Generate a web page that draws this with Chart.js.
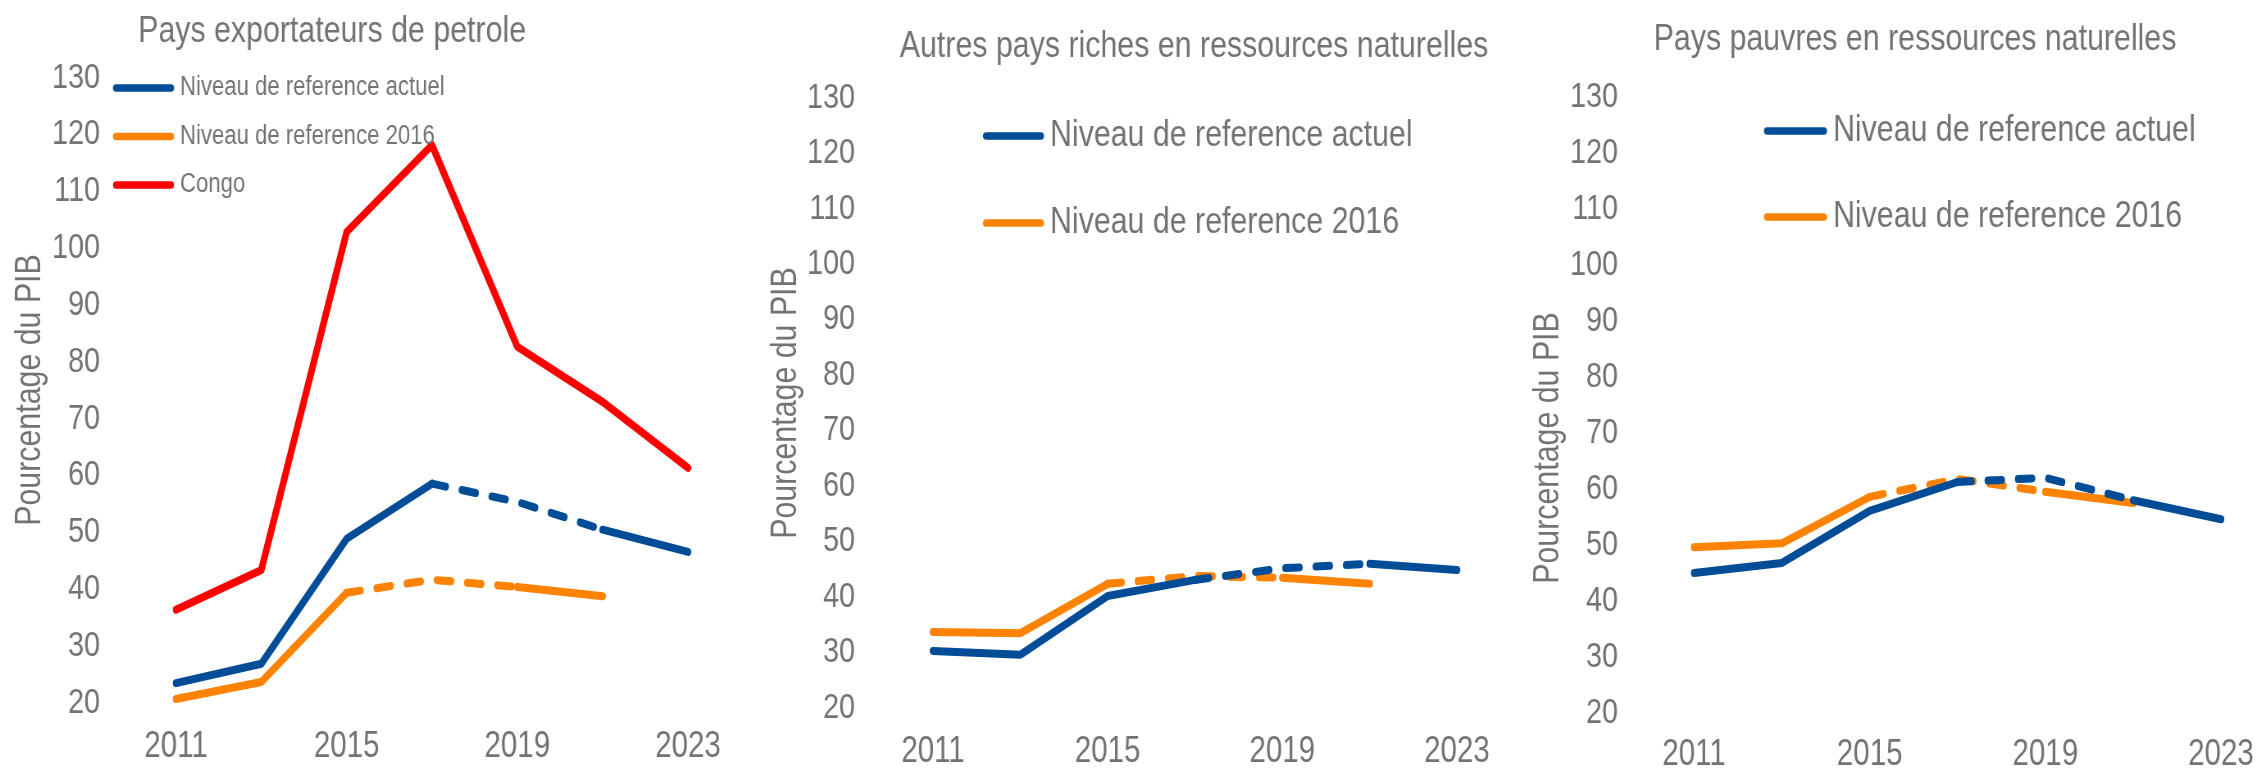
<!DOCTYPE html>
<html>
<head>
<meta charset="utf-8">
<script src="https://cdn.jsdelivr.net/npm/chart.js@4.4.1/dist/chart.umd.min.js"></script>
<style>
    html, body { margin: 0; padding: 0; background: #fff; }
    #wrap { position: relative; width: 2257px; height: 770px; overflow: hidden; }
    .panel { position: absolute; top: 0; height: 770px; overflow: hidden; }
    /* the source uses a narrow face; squeeze a regular one to get the same proportions */
    .squeeze { position: absolute; left: 0; top: 0; height: 770px; transform: scaleX(0.82); transform-origin: 0 0; }
</style>
</head>
<body>
<div id="wrap">
    <div class="panel" style="left:0;width:755px"><div class="squeeze" style="width:921px"><canvas id="oilChart"></canvas></div></div>
    <div class="panel" style="left:755px;width:755px"><div class="squeeze" style="width:921px"><canvas id="richChart"></canvas></div></div>
    <div class="panel" style="left:1510px;width:747px"><div class="squeeze" style="width:911px"><canvas id="poorChart"></canvas></div></div>
</div>
<script>
// years on the x axis, only some of them get a label
const years = ['2011', '2013', '2015', '2017', '2019', '2021', '2023'];
const shownYears = ['2011', '2015', '2019', '2023'];

// Pays exportateurs de petrole
const oilActual = [23.5, 26.9, 48.9, 58.6, 55.4, 50.5, 46.6];
const oil2016 = [20.7, 23.7, 39.4, 41.7, 40.4, 38.8, null];
const congo = [36.4, 43.4, 102.9, 118.2, 82.7, 73, 61.4];

// Autres pays riches en ressources naturelles
const richActual = [30.3, 29.6, 40.2, 43.1, 45.2, 46, 44.9];
const rich2016 = [33.7, 33.5, 42.4, 43.8, 43.5, 42.4, null];

// Pays pauvres en ressources naturelles
const poorActual = [45, 46.8, 56.1, 61.25, 62, 58, 54.6];
const poor2016 = [49.6, 50.3, 58.6, 61.8, 59.5, 57.5, null];

const yMin = 20;
const yMax = 130;
const yStep = 10;

const SQUEEZE = 0.82;
const BLUE = '#004c97';
const ORANGE = '#ff8200';
const RED = '#ff0000';
const GREY = '#737373';
const FONT = "'Liberation Sans', Arial, sans-serif";

// titles, axis title and in-plot legend (legend rows come from the datasets)
const panelText = {
    id: 'panelText',
    afterDraw(chart, args, opts) {
        const ctx = chart.ctx;
        ctx.save();
        ctx.fillStyle = GREY;
        ctx.font = `${opts.titleSize}px ${FONT}`;
        ctx.textAlign = 'center';
        ctx.textBaseline = 'alphabetic';
        ctx.fillText(opts.title, opts.titleX, opts.titleY);

        ctx.font = `${opts.legendSize}px ${FONT}`;
        ctx.textAlign = 'left';
        ctx.textBaseline = 'middle';
        chart.data.datasets.forEach((ds, i) => {
            const y = opts.legendY + i * opts.legendStep;
            ctx.strokeStyle = ds.borderColor;
            ctx.lineWidth = 7.5;
            ctx.lineCap = 'round';
            ctx.beginPath();
            ctx.moveTo(opts.legendX, y);
            ctx.lineTo(opts.legendX + opts.lineLength, y);
            ctx.stroke();
            ctx.fillText(ds.label, opts.legendX + opts.lineLength + 11, y);
        });

        // rotated title: undo the squeeze across the glyphs, keep it along the text
        ctx.translate(opts.axisTitleX, opts.axisTitleY);
        ctx.scale(1 / SQUEEZE, 1);
        ctx.rotate(-Math.PI / 2);
        ctx.scale(SQUEEZE, 1);
        ctx.textAlign = 'center';
        ctx.font = `37px ${FONT}`;
        ctx.fillText('Pourcentage du PIB', 0, 0);
        ctx.restore();
    },
};

// dashed between two indexes (projection part)
function line(label, data, color, dashFrom, dashTo) {
    return {
        label,
        data,
        borderColor: color,
        backgroundColor: color,
        borderWidth: 8,
        borderCapStyle: 'round',
        borderJoinStyle: 'round',
        pointRadius: 0,
        fill: false,
        tension: 0,
        segment: {
            borderDash: ctx => (ctx.p0DataIndex >= dashFrom && ctx.p0DataIndex < dashTo ? [17, 20] : undefined),
        },
    };
}

function makeChart(el, datasets, g) {
    return new Chart(document.getElementById(el), {
        type: 'line',
        data: { labels: years, datasets },
        options: {
            responsive: true,
            maintainAspectRatio: false,
            animation: false,
            layout: { padding: { left: 0, right: g.padRight, top: g.top, bottom: 0 } },
            scales: {
                x: {
                    // invisible tick marks keep the labels away from the plot
                    grid: { display: false, drawTicks: true, tickLength: g.xPad - 2 },
                    border: { display: false },
                    afterFit: s => { s.height = 770 - g.bottom; },
                    ticks: {
                        autoSkip: false,
                        maxRotation: 0,
                        padding: 2,
                        color: GREY,
                        font: { family: FONT, size: 36 },
                        callback(v) {
                            const lab = this.getLabelForValue(v);
                            return shownYears.includes(lab) ? lab : '';
                        },
                    },
                },
                y: {
                    min: yMin,
                    max: yMax,
                    grid: { display: false, drawTicks: true, tickLength: g.yPad - 3 },
                    border: { display: false },
                    afterFit: s => { s.width = g.left; },
                    ticks: {
                        stepSize: yStep,
                        padding: 3,
                        color: GREY,
                        font: { family: FONT, size: 35 },
                    },
                },
            },
            plugins: {
                legend: { display: false },
                tooltip: { enabled: false },
                panelText: g.text,
            },
        },
        plugins: [panelText],
    });
}

makeChart('oilChart', [
    line('Niveau de reference actuel', oilActual, BLUE, 3, 5),
    line('Niveau de reference 2016', oil2016, ORANGE, 2, 4),
    line('Congo', congo, RED, -1, -1),
], {
    left: 214.6, padRight: 82, top: 78, bottom: 703, xPad: 22, yPad: 92.7,
    text: { title: 'Pays exportateurs de petrole', titleSize: 37, titleX: 405, titleY: 42,
        legendSize: 27, legendX: 141.5, legendY: 88, legendStep: 48.5, lineLength: 67,
        axisTitleX: 36.6, axisTitleY: 390 },
});

makeChart('richChart', [
    line('Niveau de reference actuel', richActual, BLUE, 3, 5),
    line('Niveau de reference 2016', rich2016, ORANGE, 2, 4),
], {
    left: 217.1, padRight: 64.9, top: 98, bottom: 708, xPad: 22, yPad: 95.1,
    text: { title: 'Autres pays riches en ressources naturelles', titleSize: 37, titleX: 535.4, titleY: 57,
        legendSize: 37, legendX: 281.7, legendY: 136, legendStep: 87, lineLength: 67,
        axisTitleX: 37.8, axisTitleY: 403 },
});

makeChart('poorChart', [
    line('Niveau de reference actuel', poorActual, BLUE, 3, 5),
    line('Niveau de reference 2016', poor2016, ORANGE, 2, 4),
], {
    left: 224.4, padRight: 43.9, top: 97, bottom: 713, xPad: 20, yPad: 92.7,
    text: { title: 'Pays pauvres en ressources naturelles', titleSize: 37, titleX: 493.9, titleY: 50,
        legendSize: 37, legendX: 313.4, legendY: 131, legendStep: 86, lineLength: 69.5,
        axisTitleX: 46.3, axisTitleY: 448 },
});
</script>
</body>
</html>
